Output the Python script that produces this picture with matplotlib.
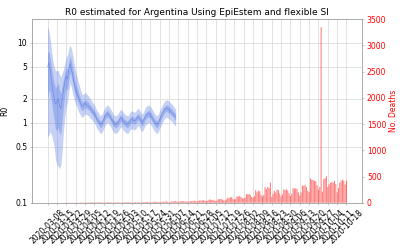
import numpy as np
import pandas as pd
import matplotlib
matplotlib.use("Agg")
from matplotlib import pyplot as plt
from matplotlib.ticker import FixedLocator, NullLocator

START = "2020-03-08"
END = "2020-10-18"

# R0 median (daily from 2020-03-08)
r0_median = [
    5.0, 5.6, 4.6, 3.3, 2.5, 2.0, 1.7, 1.8, 2.0, 1.6,
    1.5, 2.0, 2.6, 3.3, 3.8, 3.5, 4.6, 5.5, 4.6, 3.8,
    3.1, 2.6, 2.4, 2.1, 1.9, 1.7, 1.6, 1.65, 1.75, 1.7,
    1.65, 1.6, 1.5, 1.45, 1.35, 1.3, 1.2, 1.1, 1.05, 0.98,
    0.95, 1.0, 1.1, 1.2, 1.27, 1.3, 1.25, 1.17, 1.1, 1.02,
    0.97, 0.95, 0.98, 1.02, 1.1, 1.15, 1.1, 1.03, 1.0, 0.97,
    0.95, 1.0, 1.07, 1.1, 1.08, 1.05, 1.08, 1.15, 1.2, 1.12,
    1.05, 1.0, 1.08, 1.18, 1.25, 1.28, 1.3, 1.25, 1.18, 1.1,
    1.03, 0.98, 0.95, 1.0, 1.1, 1.2, 1.3, 1.4, 1.48, 1.52,
    1.5, 1.45, 1.4, 1.35, 1.3, 1.22, 1.18,
]
# band factors (upper = median * hi, lower = median / lo)
r0_hi95 = [
    3.2, 2.5, 2.4, 2.4, 2.4, 2.5, 2.6, 2.5, 2.25, 2.5,
    2.5, 2.1, 1.8, 1.7, 1.75, 2.0, 1.85, 1.7, 1.8, 1.8,
    1.75, 1.7, 1.6, 1.55, 1.5, 1.45, 1.4, 1.38, 1.36, 1.35,
    1.34, 1.33, 1.32, 1.31, 1.3, 1.3, 1.29, 1.29, 1.29, 1.29,
    1.29, 1.29, 1.29, 1.28, 1.28, 1.28, 1.28, 1.28, 1.28, 1.28,
    1.28, 1.28, 1.28, 1.28, 1.28, 1.28, 1.28, 1.28, 1.28, 1.28,
    1.28, 1.28, 1.28, 1.28, 1.28, 1.28, 1.28, 1.28, 1.28, 1.28,
    1.28, 1.28, 1.28, 1.28, 1.28, 1.28, 1.28, 1.28, 1.28, 1.28,
    1.28, 1.28, 1.28, 1.28, 1.28, 1.28, 1.28, 1.27, 1.27, 1.27,
    1.27, 1.27, 1.27, 1.27, 1.27, 1.27, 1.27,
]
r0_lo95 = [
    7.5, 8.0, 6.0, 4.7, 4.2, 4.0, 4.9, 6.0, 7.0, 6.0,
    5.0, 4.4, 3.2, 2.75, 2.4, 1.9, 1.85, 1.75, 1.7, 1.7,
    1.6, 1.55, 1.5, 1.5, 1.45, 1.4, 1.38, 1.36, 1.35, 1.34,
    1.33, 1.32, 1.31, 1.31, 1.3, 1.3, 1.3, 1.3, 1.3, 1.3,
    1.3, 1.3, 1.3, 1.3, 1.3, 1.3, 1.3, 1.3, 1.3, 1.3,
    1.3, 1.3, 1.3, 1.3, 1.3, 1.3, 1.3, 1.3, 1.3, 1.3,
    1.3, 1.3, 1.3, 1.3, 1.3, 1.3, 1.3, 1.3, 1.3, 1.3,
    1.3, 1.3, 1.3, 1.3, 1.3, 1.3, 1.3, 1.3, 1.3, 1.3,
    1.3, 1.3, 1.3, 1.3, 1.3, 1.3, 1.3, 1.3, 1.3, 1.3,
    1.3, 1.3, 1.3, 1.3, 1.3, 1.3, 1.3,
]
r0_hi50 = [
    1.5, 1.4, 1.4, 1.45, 1.5, 1.55, 1.6, 1.6, 1.55, 1.6,
    1.55, 1.45, 1.35, 1.3, 1.3, 1.3, 1.28, 1.25, 1.25, 1.25,
    1.22, 1.2, 1.18, 1.16, 1.15, 1.14, 1.13, 1.12, 1.11, 1.11,
    1.11, 1.11, 1.11, 1.1, 1.1, 1.1, 1.1, 1.1, 1.1, 1.1,
    1.1, 1.1, 1.1, 1.1, 1.1, 1.1, 1.1, 1.1, 1.1, 1.1,
    1.1, 1.1, 1.1, 1.1, 1.1, 1.1, 1.1, 1.1, 1.1, 1.1,
    1.1, 1.1, 1.1, 1.1, 1.1, 1.1, 1.1, 1.1, 1.1, 1.1,
    1.1, 1.1, 1.1, 1.1, 1.1, 1.1, 1.1, 1.1, 1.1, 1.1,
    1.1, 1.1, 1.1, 1.1, 1.1, 1.1, 1.1, 1.1, 1.1, 1.1,
    1.1, 1.1, 1.1, 1.1, 1.1, 1.1, 1.1,
]
r0_lo50 = [
    2.4, 2.2, 1.9, 1.8, 1.8, 1.9, 2.1, 2.2, 2.3, 2.2,
    2.0, 1.8, 1.6, 1.45, 1.4, 1.35, 1.3, 1.28, 1.27, 1.26,
    1.24, 1.22, 1.2, 1.18, 1.16, 1.15, 1.14, 1.13, 1.12, 1.12,
    1.12, 1.11, 1.11, 1.11, 1.1, 1.1, 1.1, 1.1, 1.1, 1.1,
    1.1, 1.1, 1.1, 1.1, 1.1, 1.1, 1.1, 1.1, 1.1, 1.1,
    1.1, 1.1, 1.1, 1.1, 1.1, 1.1, 1.1, 1.1, 1.1, 1.1,
    1.1, 1.1, 1.1, 1.1, 1.1, 1.1, 1.1, 1.1, 1.1, 1.1,
    1.1, 1.1, 1.1, 1.1, 1.1, 1.1, 1.1, 1.1, 1.1, 1.1,
    1.1, 1.1, 1.1, 1.1, 1.1, 1.1, 1.1, 1.1, 1.1, 1.1,
    1.1, 1.1, 1.1, 1.1, 1.1, 1.1, 1.1,
]

# daily deaths from 2020-03-08 to 2020-10-18, one row per week (Sun..Sat)
deaths = [
    1, 0, 0, 0, 0, 1, 0,
    0, 1, 0, 0, 1, 0, 1,
    1, 2, 3, 2, 4, 3, 5,
    2, 4, 3, 2, 7, 5, 6,
    4, 5, 7, 6, 8, 9, 10,
    5, 6, 10, 7, 8, 9, 4,
    3, 6, 7, 9, 9, 8, 7,
    5, 5, 7, 8, 11, 6, 7,
    4, 8, 9, 10, 9, 12, 8,
    6, 5, 10, 12, 8, 12, 7,
    8, 9, 14, 13, 15, 17, 11,
    10, 8, 16, 18, 20, 17, 13,
    11, 14, 18, 22, 19, 28, 15,
    12, 16, 26, 24, 28, 32, 21,
    18, 20, 35, 33, 30, 26, 21,
    22, 19, 34, 30, 36, 40, 28,
    26, 30, 46, 42, 45, 50, 38,
    32, 38, 56, 62, 48, 55, 40,
    35, 42, 70, 68, 75, 60, 45,
    40, 62, 95, 90, 100, 110, 75,
    60, 75, 125, 120, 130, 110, 85,
    80, 95, 165, 160, 170, 150, 110,
    100, 130, 240, 200, 230, 220, 150,
    120, 150, 300, 260, 305, 280, 385,
    110, 170, 230, 200, 250, 240, 180,
    120, 160, 255, 240, 260, 230, 180,
    130, 170, 280, 270, 275, 260, 200,
    140, 200, 330, 320, 340, 300, 230,
    200, 465, 440, 430, 420, 410, 330,
    250, 300, 3350, 210, 450, 470, 510,
    300, 350, 380, 400, 380, 420, 360,
    200, 280, 380, 420, 440, 420, 350,
    420,
]


def main():
    plt.rcParams["font.size"] = 11
    r0_dates = pd.date_range(START, periods=len(r0_median), freq="D")
    death_dates = pd.date_range(START, periods=len(deaths), freq="D")
    tick_dates = pd.date_range(START, END, freq="7D")
    med = np.array(r0_median)

    fig, ax = plt.subplots(figsize=(8, 5), dpi=50)
    fig.subplots_adjust(left=0.08, right=0.905, top=0.923, bottom=0.189)
    ax.fill_between(r0_dates, med / np.array(r0_lo95), med * np.array(r0_hi95),
                    color="royalblue", alpha=0.3, linewidth=0)
    ax.fill_between(r0_dates, med / np.array(r0_lo50), med * np.array(r0_hi50),
                    color="royalblue", alpha=0.3, linewidth=0)
    ax.plot(r0_dates, med, color="royalblue", linewidth=0.8, alpha=0.6)
    ax.set_yscale("log")
    ax.set_ylim(0.1, 19.6)
    ax.yaxis.set_major_locator(FixedLocator([0.1, 0.5, 1, 2, 5, 10]))
    ax.yaxis.set_minor_locator(NullLocator())
    ax.set_yticklabels(["0.1", "0.5", "1", "2", "5", "10"])
    ax.set_ylabel("R0", labelpad=8)
    ax.set_xticks(tick_dates)
    ax.set_xticklabels([d.strftime("%Y-%m-%d") for d in tick_dates], rotation=45)
    ax.grid(True, color="#dddddd", linewidth=1.2)
    ax.set_axisbelow(True)
    ax.set_title("R0 estimated for Argentina Using EpiEstem and flexible SI",
                 fontsize=13)

    ax2 = ax.twinx()
    bars = ax2.bar(death_dates, deaths, width=0.8, color="red", alpha=0.5,
                   linewidth=0)
    for b in bars:
        b.set_snap(False)
    ax2.set_ylim(0, 3500)
    ax2.set_ylabel("No. Deaths", color="red")
    ax2.tick_params(axis="y", labelcolor="red")
    for a in (ax, ax2):
        for sp in a.spines.values():
            sp.set_color("#999999")
        a.tick_params(color="#999999")

    fig.savefig("out.png")
    plt.close(fig=fig)


if __name__ == "__main__":
    main()
